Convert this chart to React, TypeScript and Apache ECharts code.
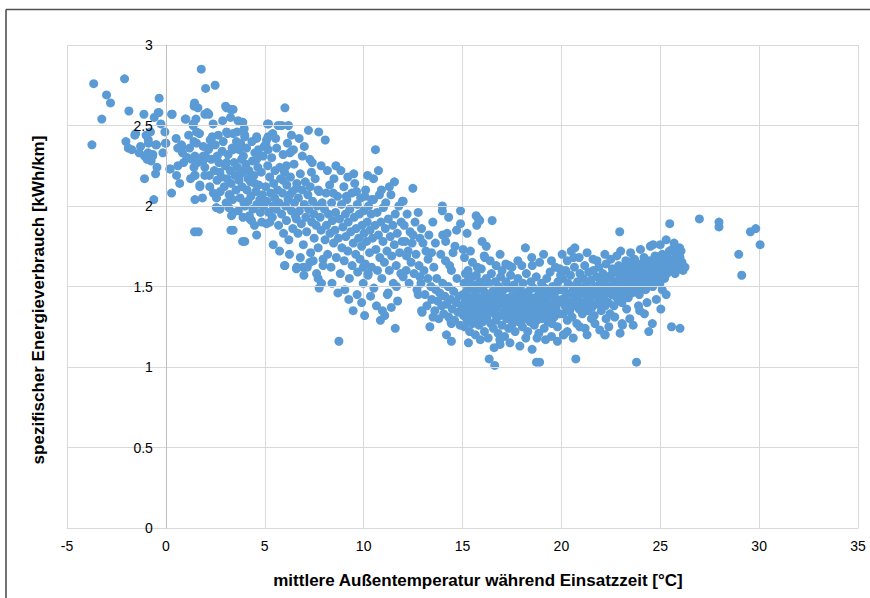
import React, { useEffect, useRef } from "react";
import * as echarts from "echarts";

const xAxisTitle = "mittlere Außentemperatur während Einsatzzeit [°C]";
const yAxisTitle = "spezifischer Energieverbrauch [kWh/km]";

// [temperature °C, specific consumption kWh/km]
const pointsBelowZero: [number, number][] = [
  [-3.74, 2.38], [-3.65, 2.76], [-3.24, 2.54], [-3.0, 2.69], [-2.8, 2.64], [-2.09, 2.79],
  [-2.02, 2.4], [-1.87, 2.59], [-1.72, 2.35], [-1.57, 2.44], [-1.53, 2.45], [-1.28, 2.37],
  [-1.11, 2.57], [-1.08, 2.31], [-1.08, 2.17], [-1.0, 2.44], [-0.89, 2.41], [-0.88, 2.39],
  [-0.67, 2.31], [-0.66, 2.32], [-0.61, 2.04], [-0.59, 2.55], [-0.52, 2.2], [-0.51, 2.38],
  [-0.47, 2.38], [-0.39, 2.58], [-0.35, 2.58], [-0.34, 2.67], [-0.05, 2.46], [-0.02, 2.39],
  [-1.35, 2.33], [-0.95, 2.29], [-0.78, 2.46], [-0.25, 2.51], [-1.9, 2.36], [-0.45, 2.24],
  [-0.15, 2.33], [-0.9, 2.33], [-0.75, 2.28],
];

const pointsZeroToTwo: [number, number][] = [
  [0.0, 2.39], [0.2, 2.23], [0.22, 2.23], [0.29, 2.08], [0.29, 2.57], [0.32, 2.57], [0.52, 2.42],
  [0.54, 2.19], [0.61, 2.25], [0.79, 2.38], [0.81, 2.37], [0.84, 2.33], [0.98, 2.54], [1.01, 2.54],
  [1.06, 2.3], [1.08, 2.3], [1.38, 2.51], [1.38, 2.5], [1.42, 2.24], [1.43, 2.62], [1.45, 2.64],
  [1.45, 2.19], [1.45, 1.84], [1.47, 2.31], [1.47, 2.04], [1.48, 2.19], [1.52, 2.54], [1.55, 2.39],
  [1.62, 2.61], [1.64, 1.84], [1.72, 2.12], [1.79, 2.85], [1.87, 2.28], [1.97, 2.57], [1.97, 2.19],
  [1.89, 2.37], [1.97, 2.24], [1.72, 2.13], [1.55, 2.46], [1.42, 2.4], [1.89, 2.31], [0.6, 2.36],
  [0.9, 2.27], [1.2, 2.36], [1.25, 2.17], [0.7, 2.14], [1.15, 2.44], [1.6, 2.27], [1.7, 2.45],
  [1.85, 2.05], [1.3, 2.29],
];

const pointsTwoToFive: [number, number][] = [
  [2.01, 2.73], [2.09, 2.58], [2.14, 2.35], [2.17, 2.57], [2.19, 2.36], [2.22, 2.12], [2.24, 2.41],
  [2.39, 2.51], [2.49, 2.75], [2.56, 2.05], [2.59, 2.16], [2.73, 1.98], [2.73, 2.21], [2.87, 2.53],
  [3.07, 2.61], [3.07, 2.27], [3.12, 2.45], [3.2, 2.07], [3.24, 2.07], [3.29, 2.6], [3.29, 1.85],
  [3.32, 1.94], [3.35, 2.36], [3.4, 1.85], [3.4, 1.96], [3.6, 2.46], [3.71, 2.35], [3.83, 2.29],
  [3.88, 1.78], [3.89, 2.52], [3.99, 2.44], [3.99, 2.22], [3.99, 1.78], [4.0, 2.0], [4.16, 2.17],
  [4.25, 1.92], [4.33, 1.91], [4.5, 2.33], [4.5, 2.14], [4.59, 2.43], [4.59, 2.29], [4.59, 1.82],
  [4.75, 2.04], [3.02, 2.62], [3.4, 2.6], [3.27, 2.55], [3.65, 2.53], [3.87, 2.52], [3.96, 2.48],
  [3.07, 2.46], [3.4, 2.45], [3.57, 2.4], [3.4, 2.35], [3.99, 2.43], [4.59, 2.42], [4.62, 2.33],
  [4.97, 2.37], [2.3, 2.29], [2.45, 2.22], [2.6, 2.31], [2.68, 2.27], [2.8, 2.18], [2.85, 2.34],
  [2.95, 2.12], [3.0, 2.25], [3.1, 2.17], [3.15, 2.32], [3.25, 2.22], [3.3, 2.14], [3.45, 2.27],
  [3.5, 2.19], [3.55, 2.1], [3.62, 2.24], [3.7, 2.16], [3.75, 2.05], [3.8, 2.2], [3.85, 2.12],
  [3.92, 2.31], [3.95, 2.02], [4.05, 2.26], [4.1, 2.1], [4.15, 2.03], [4.2, 2.22], [4.28, 2.15],
  [4.3, 2.06], [4.38, 2.28], [4.4, 1.98], [4.45, 2.19], [4.55, 2.09], [4.6, 2.01], [4.65, 2.24],
  [4.7, 2.13], [4.78, 1.96], [4.82, 2.21], [4.88, 2.07], [4.92, 2.31], [4.95, 2.0], [2.35, 2.43],
  [2.5, 2.38], [2.65, 2.44], [2.75, 2.09], [2.9, 2.4], [3.05, 2.02], [3.18, 1.99], [3.38, 2.04],
  [3.48, 2.36], [3.66, 1.97], [3.78, 2.39], [3.9, 1.93], [4.08, 2.36], [4.22, 1.94], [4.35, 2.4],
  [4.48, 1.88], [4.68, 2.35], [4.85, 1.9], [2.55, 1.99], [2.4, 2.08], [2.2, 2.19], [2.05, 2.3],
];

const pointsFiveToEight: [number, number][] = [
  [5.09, 2.41], [5.09, 1.89], [5.14, 2.51], [5.17, 2.35], [5.19, 2.51], [5.26, 1.9], [5.43, 2.0],
  [5.43, 1.76], [5.68, 2.5], [5.76, 2.24], [5.86, 2.5], [5.93, 2.16], [6.0, 1.63], [6.02, 2.61],
  [6.02, 1.63], [6.2, 2.5], [6.27, 2.33], [6.27, 2.07], [6.6, 1.61], [6.6, 1.92], [6.74, 2.42],
  [6.98, 1.57], [7.21, 2.47], [7.28, 2.29], [7.73, 2.46], [7.75, 1.49], [6.62, 1.62], [6.94, 1.62],
  [7.62, 1.58], [7.87, 1.52], [7.28, 1.65], [7.95, 1.63], [5.17, 2.43], [5.06, 2.38], [5.93, 2.32],
  [6.35, 2.34], [6.1, 2.25], [7.36, 2.21], [6.6, 2.11], [7.7, 2.1], [5.05, 2.12], [5.1, 2.03],
  [5.15, 2.25], [5.2, 1.96], [5.25, 2.18], [5.3, 2.08], [5.35, 2.3], [5.38, 1.93], [5.45, 2.14],
  [5.5, 2.05], [5.52, 2.22], [5.58, 1.98], [5.6, 2.36], [5.65, 2.1], [5.7, 1.88], [5.72, 2.02],
  [5.8, 2.17], [5.85, 1.95], [5.9, 2.08], [5.95, 1.83], [6.0, 2.21], [6.05, 2.0], [6.1, 1.91],
  [6.12, 2.13], [6.18, 2.04], [6.22, 1.79], [6.3, 2.18], [6.35, 1.97], [6.4, 2.09], [6.42, 1.86],
  [6.48, 2.26], [6.5, 2.02], [6.55, 1.94], [6.62, 2.14], [6.68, 1.83], [6.7, 2.05], [6.75, 1.97],
  [6.8, 2.2], [6.85, 1.89], [6.9, 2.1], [6.95, 1.76], [7.0, 2.01], [7.05, 2.15], [7.08, 1.93],
  [7.12, 1.84], [7.18, 2.07], [7.22, 1.98], [7.3, 2.12], [7.32, 1.71], [7.38, 1.9], [7.42, 2.03],
  [7.48, 1.95], [7.5, 1.8], [7.55, 2.17], [7.6, 1.88], [7.65, 2.0], [7.7, 1.74], [7.75, 2.09],
  [7.8, 1.93], [7.85, 1.85], [7.9, 2.02], [7.95, 1.67], [5.55, 2.42], [6.15, 2.39], [6.45, 2.35],
  [6.9, 2.31], [7.4, 2.27], [7.0, 2.37], [7.85, 2.25], [5.4, 2.45], [6.35, 2.44], [5.75, 1.72],
  [6.25, 1.7], [6.8, 1.68], [7.15, 1.62], [7.45, 1.66], [7.7, 1.55],
];

const pointsEightToTwelve: [number, number][] = [
  [8.06, 2.41], [8.17, 2.22], [8.7, 1.46], [8.75, 1.16], [8.85, 2.22], [9.47, 1.35], [9.5, 2.2],
  [9.64, 2.09], [9.67, 1.45], [10.06, 2.06], [10.5, 2.17], [10.6, 2.35], [10.65, 1.38], [10.85, 1.29],
  [10.9, 2.1], [11.56, 2.15], [11.6, 1.24], [11.96, 2.03], [11.07, 1.32], [9.98, 1.52], [10.23, 1.58],
  [11.24, 1.46], [11.66, 1.5], [10.4, 2.04], [8.46, 2.08], [9.13, 2.06], [8.02, 1.98], [8.05, 1.79],
  [8.1, 2.08], [8.12, 1.88], [8.18, 1.7], [8.22, 1.95], [8.28, 2.13], [8.3, 1.83], [8.35, 1.62],
  [8.38, 2.02], [8.42, 1.91], [8.48, 1.77], [8.5, 2.17], [8.55, 1.85], [8.58, 1.96], [8.62, 1.68],
  [8.68, 2.06], [8.72, 1.8], [8.78, 1.92], [8.82, 1.58], [8.88, 2.01], [8.9, 1.74], [8.95, 1.87],
  [9.0, 2.12], [9.02, 1.66], [9.08, 1.95], [9.1, 1.81], [9.15, 2.04], [9.2, 1.72], [9.22, 1.9],
  [9.28, 1.55], [9.3, 1.98], [9.35, 1.84], [9.4, 2.08], [9.42, 1.63], [9.48, 1.77], [9.52, 1.93],
  [9.55, 2.14], [9.6, 1.7], [9.62, 1.86], [9.68, 2.01], [9.7, 1.59], [9.75, 1.8], [9.78, 1.95],
  [9.82, 1.67], [9.85, 2.05], [9.9, 1.75], [9.92, 1.88], [9.98, 1.62], [10.0, 1.97], [10.02, 1.83],
  [10.08, 1.64], [10.1, 2.1], [10.15, 1.78], [10.18, 1.9], [10.22, 1.57], [10.25, 2.0], [10.3, 1.71],
  [10.32, 1.85], [10.38, 1.95], [10.4, 1.62], [10.45, 1.8], [10.5, 2.04], [10.52, 1.49], [10.58, 1.88],
  [10.62, 1.73], [10.68, 1.96], [10.7, 1.6], [10.75, 1.82], [10.8, 2.07], [10.82, 1.68], [10.88, 1.9],
  [10.92, 1.55], [10.98, 1.78], [11.0, 1.99], [11.05, 1.65], [11.1, 1.86], [11.12, 2.02], [11.18, 1.72],
  [11.2, 1.45], [11.25, 1.92], [11.3, 1.6], [11.35, 1.81], [11.38, 2.07], [11.42, 1.69], [11.48, 1.88],
  [11.5, 1.52], [11.55, 1.76], [11.6, 1.95], [11.65, 1.63], [11.7, 1.83], [11.72, 1.41], [11.78, 2.0],
  [11.82, 1.71], [11.88, 1.58], [11.9, 1.9], [11.95, 1.78], [8.4, 1.52], [9.05, 1.48], [9.25, 1.42],
  [9.9, 1.4], [10.35, 1.44], [10.05, 1.32], [10.95, 1.35], [11.4, 1.37], [8.6, 2.25], [9.2, 2.18],
  [10.2, 2.19], [10.75, 2.22], [11.3, 2.12],
];

const pointsTwelveToFifteen: [number, number][] = [
  [12.0, 2.03], [12.17, 1.69], [12.49, 2.11], [12.5, 1.82], [12.76, 1.96], [12.76, 1.45], [12.84, 1.56],
  [12.93, 1.86], [12.93, 1.35], [12.96, 1.34], [13.0, 1.77], [13.26, 1.67], [13.35, 1.25], [13.43, 1.71],
  [13.51, 1.31], [13.63, 1.77], [13.98, 2.0], [13.98, 1.97], [14.14, 1.66], [14.19, 1.2], [14.22, 1.83],
  [14.42, 1.28], [14.44, 1.6], [14.44, 1.16], [14.44, 1.27], [14.52, 1.71], [14.9, 1.97], [14.9, 1.89],
  [12.0, 1.56], [12.05, 1.88], [12.1, 1.78], [12.15, 1.6], [12.2, 1.95], [12.25, 1.72], [12.3, 1.52],
  [12.35, 1.84], [12.4, 1.65], [12.45, 1.77], [12.55, 1.58], [12.6, 1.9], [12.65, 1.7], [12.7, 1.48],
  [12.8, 1.63], [12.85, 1.8], [12.9, 1.52], [13.05, 1.6], [13.1, 1.45], [13.15, 1.72], [13.2, 1.38],
  [13.25, 1.55], [13.3, 1.82], [13.4, 1.5], [13.45, 1.42], [13.55, 1.62], [13.6, 1.35], [13.65, 1.48],
  [13.7, 1.55], [13.75, 1.41], [13.8, 1.3], [13.85, 1.46], [13.9, 1.7], [13.95, 1.38], [14.0, 1.52],
  [14.05, 1.33], [14.1, 1.44], [14.15, 1.78], [14.2, 1.39], [14.28, 1.5], [14.3, 1.31], [14.35, 1.63],
  [14.4, 1.42], [14.48, 1.36], [14.55, 1.47], [14.6, 1.29], [14.62, 1.75], [14.68, 1.4], [14.72, 1.55],
  [14.78, 1.34], [14.82, 1.44], [14.88, 1.26], [14.95, 1.38], [14.0, 1.82], [13.5, 1.9], [14.7, 1.85],
  [14.3, 1.93],
];

const pointsFifteenToTwenty: [number, number][] = [
  [15.03, 1.73], [15.23, 1.83], [15.28, 1.6], [15.69, 1.94], [15.72, 1.88], [15.8, 1.92], [15.87, 1.91],
  [15.99, 1.78], [16.1, 1.69], [16.13, 1.68], [16.35, 1.05], [16.5, 1.91], [16.6, 1.12], [16.63, 1.01],
  [16.89, 1.17], [17.19, 1.64], [17.36, 1.63], [18.18, 1.74], [18.52, 1.11], [18.53, 1.63], [18.74, 1.03],
  [18.77, 1.18], [18.9, 1.03], [19.2, 1.17], [19.92, 1.61], [15.02, 1.45], [15.05, 1.32], [15.08, 1.52],
  [15.1, 1.25], [15.12, 1.4], [15.15, 1.58], [15.18, 1.35], [15.2, 1.47], [15.24, 1.29], [15.27, 1.42],
  [15.3, 1.54], [15.33, 1.37], [15.36, 1.22], [15.4, 1.49], [15.42, 1.31], [15.45, 1.43], [15.48, 1.56],
  [15.5, 1.27], [15.53, 1.39], [15.56, 1.51], [15.6, 1.34], [15.62, 1.45], [15.65, 1.2], [15.68, 1.41],
  [15.7, 1.57], [15.74, 1.3], [15.77, 1.48], [15.8, 1.37], [15.83, 1.26], [15.86, 1.53], [15.9, 1.43],
  [15.92, 1.33], [15.95, 1.61], [15.98, 1.4], [16.02, 1.28], [16.05, 1.5], [16.08, 1.36], [16.11, 1.22],
  [16.15, 1.46], [16.18, 1.39], [16.2, 1.55], [16.24, 1.31], [16.27, 1.44], [16.3, 1.18], [16.33, 1.52],
  [16.36, 1.35], [16.4, 1.42], [16.43, 1.27], [16.46, 1.58], [16.5, 1.38], [16.53, 1.47], [16.56, 1.24],
  [16.6, 1.41], [16.63, 1.33], [16.66, 1.53], [16.7, 1.29], [16.73, 1.45], [16.76, 1.37], [16.8, 1.21],
  [16.83, 1.5], [16.86, 1.4], [16.9, 1.32], [16.93, 1.56], [16.96, 1.44], [17.0, 1.26], [17.03, 1.39],
  [17.06, 1.48], [17.1, 1.34], [17.13, 1.19], [17.16, 1.43], [17.2, 1.53], [17.23, 1.3], [17.26, 1.41],
  [17.3, 1.36], [17.33, 1.24], [17.36, 1.49], [17.4, 1.38], [17.43, 1.57], [17.46, 1.32], [17.5, 1.44],
  [17.53, 1.27], [17.56, 1.4], [17.6, 1.51], [17.63, 1.35], [17.66, 1.22], [17.7, 1.46], [17.73, 1.39],
  [17.76, 1.31], [17.8, 1.55], [17.83, 1.42], [17.86, 1.28], [17.9, 1.37], [17.93, 1.48], [17.96, 1.33],
  [18.0, 1.43], [18.03, 1.25], [18.06, 1.52], [18.1, 1.38], [18.13, 1.3], [18.16, 1.45], [18.2, 1.35],
  [18.23, 1.58], [18.26, 1.41], [18.3, 1.22], [18.33, 1.47], [18.36, 1.34], [18.4, 1.39], [18.43, 1.28],
  [18.46, 1.53], [18.5, 1.43], [18.53, 1.31], [18.56, 1.37], [18.6, 1.49], [18.63, 1.26], [18.66, 1.42],
  [18.7, 1.35], [18.73, 1.56], [18.76, 1.29], [18.8, 1.44], [18.83, 1.38], [18.86, 1.21], [18.9, 1.47],
  [18.93, 1.33], [18.96, 1.41], [19.0, 1.52], [19.03, 1.3], [19.06, 1.45], [19.1, 1.36], [19.13, 1.24],
  [19.16, 1.49], [19.2, 1.4], [19.23, 1.32], [19.26, 1.55], [19.3, 1.43], [19.33, 1.28], [19.36, 1.47],
  [19.4, 1.37], [19.43, 1.59], [19.46, 1.34], [19.5, 1.44], [19.53, 1.27], [19.56, 1.5], [19.6, 1.39],
  [19.63, 1.31], [19.66, 1.46], [19.7, 1.62], [19.73, 1.36], [19.76, 1.42], [19.8, 1.25], [19.83, 1.53],
  [19.86, 1.4], [19.9, 1.33], [19.93, 1.48], [19.96, 1.57], [15.1, 1.68], [15.4, 1.72], [15.5, 1.65],
  [15.75, 1.62], [16.2, 1.75], [16.4, 1.66], [16.7, 1.63], [16.9, 1.7], [17.5, 1.62], [17.8, 1.66],
  [18.5, 1.68], [18.9, 1.65], [19.1, 1.7], [19.5, 1.66], [17.0, 1.6], [18.0, 1.63], [15.3, 1.15],
  [15.9, 1.17], [17.4, 1.15], [17.9, 1.13], [18.2, 1.18], [19.5, 1.19], [19.8, 1.16], [16.9, 1.14],
];

const pointsTwentyToTwentySix: [number, number][] = [
  [20.04, 1.7], [20.1, 1.2], [20.12, 1.2], [20.63, 1.68], [20.68, 1.74], [20.73, 1.05], [20.93, 1.25],
  [21.52, 1.3], [21.6, 1.67], [21.94, 1.23], [22.19, 1.2], [22.22, 1.2], [22.26, 1.3], [22.5, 1.67],
  [22.8, 1.69], [22.95, 1.84], [22.97, 1.21], [23.07, 1.27], [23.09, 1.26], [23.46, 1.3], [23.6, 1.66],
  [23.63, 1.26], [23.8, 1.03], [23.96, 1.35], [24.33, 1.4], [24.42, 1.22], [24.6, 1.27], [24.64, 1.76],
  [25.03, 1.36], [25.1, 1.48], [25.48, 1.89], [25.57, 1.25], [26.0, 1.24], [26.25, 1.62], [25.98, 1.74],
  [25.75, 1.74], [20.02, 1.42], [20.06, 1.55], [20.1, 1.33], [20.14, 1.48], [20.18, 1.38], [20.22, 1.6],
  [20.26, 1.45], [20.3, 1.29], [20.34, 1.52], [20.38, 1.4], [20.42, 1.35], [20.46, 1.57], [20.5, 1.46],
  [20.54, 1.31], [20.58, 1.5], [20.62, 1.42], [20.66, 1.62], [20.7, 1.38], [20.74, 1.47], [20.78, 1.27],
  [20.82, 1.53], [20.86, 1.44], [20.9, 1.36], [20.94, 1.58], [20.98, 1.49], [21.02, 1.4], [21.06, 1.33],
  [21.1, 1.55], [21.14, 1.46], [21.18, 1.63], [21.22, 1.38], [21.26, 1.51], [21.3, 1.43], [21.34, 1.35],
  [21.38, 1.59], [21.42, 1.48], [21.46, 1.41], [21.5, 1.54], [21.54, 1.37], [21.58, 1.46], [21.62, 1.6],
  [21.66, 1.32], [21.7, 1.5], [21.74, 1.44], [21.78, 1.56], [21.82, 1.39], [21.86, 1.48], [21.9, 1.62],
  [21.94, 1.42], [21.98, 1.53], [22.02, 1.35], [22.06, 1.47], [22.1, 1.58], [22.14, 1.43], [22.18, 1.51],
  [22.22, 1.38], [22.26, 1.64], [22.3, 1.46], [22.34, 1.55], [22.38, 1.4], [22.42, 1.5], [22.46, 1.33],
  [22.5, 1.57], [22.54, 1.45], [22.58, 1.61], [22.62, 1.48], [22.66, 1.38], [22.7, 1.53], [22.74, 1.44],
  [22.78, 1.59], [22.82, 1.5], [22.86, 1.42], [22.9, 1.63], [22.94, 1.55], [22.98, 1.47], [23.02, 1.58],
  [23.06, 1.4], [23.1, 1.52], [23.14, 1.62], [23.18, 1.45], [23.22, 1.56], [23.26, 1.66], [23.3, 1.49],
  [23.34, 1.59], [23.38, 1.43], [23.42, 1.54], [23.46, 1.63], [23.5, 1.51], [23.54, 1.57], [23.58, 1.46],
  [23.62, 1.6], [23.66, 1.53], [23.7, 1.67], [23.74, 1.49], [23.78, 1.58], [23.82, 1.62], [23.86, 1.52],
  [23.9, 1.56], [23.94, 1.45], [23.98, 1.64], [24.02, 1.57], [24.06, 1.5], [24.1, 1.61], [24.14, 1.54],
  [24.18, 1.68], [24.22, 1.58], [24.26, 1.48], [24.3, 1.63], [24.34, 1.56], [24.38, 1.6], [24.42, 1.52],
  [24.46, 1.66], [24.5, 1.59], [24.54, 1.55], [24.58, 1.64], [24.62, 1.5], [24.66, 1.61], [24.7, 1.57],
  [24.74, 1.69], [24.78, 1.6], [24.82, 1.54], [24.86, 1.63], [24.9, 1.58], [24.94, 1.66], [24.98, 1.52],
  [25.02, 1.61], [25.06, 1.57], [25.1, 1.7], [25.14, 1.63], [25.18, 1.59], [25.22, 1.55], [25.26, 1.66],
  [25.3, 1.61], [25.34, 1.58], [25.38, 1.68], [25.42, 1.63], [25.46, 1.72], [25.5, 1.6], [25.55, 1.65],
  [25.6, 1.73], [25.65, 1.62], [25.7, 1.67], [25.75, 1.58], [25.8, 1.7], [25.85, 1.64], [25.9, 1.73],
  [25.95, 1.61], [26.0, 1.68], [26.05, 1.72], [26.1, 1.65], [26.15, 1.6], [20.3, 1.22], [20.6, 1.18],
  [21.2, 1.24], [21.7, 1.27], [22.4, 1.25], [22.7, 1.31], [23.3, 1.36], [23.9, 1.38], [24.2, 1.33],
  [24.8, 1.42], [25.3, 1.45], [21.3, 1.2], [20.3, 1.66], [20.9, 1.68], [21.3, 1.71], [21.8, 1.66],
  [22.2, 1.7], [23.0, 1.72], [23.5, 1.71], [24.0, 1.73], [24.5, 1.75], [25.0, 1.76], [25.7, 1.77],
  [25.3, 1.79], [20.5, 1.72],
];

const pointsAboveTwentySix: [number, number][] = [
  [26.98, 1.92], [27.97, 1.9], [27.97, 1.87], [28.97, 1.7], [29.12, 1.57], [29.56, 1.84], [29.83, 1.86],
  [30.05, 1.76],
];

const allPoints = [
  ...pointsBelowZero,
  ...pointsZeroToTwo,
  ...pointsTwoToFive,
  ...pointsFiveToEight,
  ...pointsEightToTwelve,
  ...pointsTwelveToFifteen,
  ...pointsFifteenToTwenty,
  ...pointsTwentyToTwentySix,
  ...pointsAboveTwentySix,
];

const FONT = '"Liberation Sans", Arial, sans-serif';

const X_MIN = -5;
const X_MAX = 35;
const GRID_LEFT = 67;
const GRID_RIGHT = 12;
const CHART_W = 870;
// y axis crosses the x axis at 0 °C: shift it right by the pixel width of the range X_MIN..0
const yAxisShift = ((0 - X_MIN) / (X_MAX - X_MIN)) * (CHART_W - GRID_LEFT - GRID_RIGHT);

export default function App() {
  const ref = useRef<HTMLDivElement>(null);

  useEffect(() => {
    if (!ref.current) return;
    const chart = echarts.init(ref.current, null, { renderer: "svg" });
    chart.setOption({
      animation: false,
      backgroundColor: "#ffffff",
      grid: { left: GRID_LEFT, right: GRID_RIGHT, top: 45, bottom: 70, containLabel: false },
      xAxis: {
        type: "value",
        min: X_MIN,
        max: X_MAX,
        interval: 5,
        axisLine: { show: true, onZero: false, lineStyle: { color: "#d9d9d9", width: 1 } },
        axisTick: { show: false },
        splitLine: { show: true, lineStyle: { color: "#d9d9d9", width: 1 } },
        axisLabel: { fontSize: 14, color: "#000000", margin: 11, fontFamily: FONT },
      },
      yAxis: {
        type: "value",
        min: 0,
        max: 3,
        interval: 0.5,
        position: "left",
        offset: -yAxisShift,
        z: 5,
        axisLine: { show: true, onZero: false, lineStyle: { color: "#bfbfbf", width: 1 } },
        axisTick: { show: false },
        splitLine: { show: true, lineStyle: { color: "#d9d9d9", width: 1 } },
        axisLabel: { fontSize: 14, color: "#000000", margin: 13, fontFamily: FONT },
      },
      series: [
        {
          type: "scatter",
          data: allPoints,
          symbol: "circle",
          symbolSize: 9,
          itemStyle: { color: "#5b9bd5", opacity: 1 },
          emphasis: { disabled: true },
        },
      ],
      graphic: [
        {
          type: "line",
          shape: { x1: 6, y1: 9.5, x2: 870, y2: 9.5 },
          style: { stroke: "#505050", lineWidth: 1.6 },
          silent: true,
        },
        {
          type: "line",
          shape: { x1: 6, y1: 9.5, x2: 6, y2: 598 },
          style: { stroke: "#505050", lineWidth: 1.6 },
          silent: true,
        },
        {
          type: "text",
          x: 478,
          y: 580,
          style: {
            text: xAxisTitle,
            fontSize: 17,
            fontWeight: "bold",
            fontFamily: FONT,
            fill: "#000000",
            align: "center",
            verticalAlign: "middle",
          },
          silent: true,
        },
        {
          type: "text",
          x: 38,
          y: 300,
          rotation: Math.PI / 2,
          style: {
            text: yAxisTitle,
            fontSize: 17,
            fontWeight: "bold",
            fontFamily: FONT,
            fill: "#000000",
            align: "center",
            verticalAlign: "middle",
          },
          silent: true,
        },
      ],
    });
    return () => chart.dispose();
  }, []);

  return (
    <div
      ref={ref}
      style={{ position: "fixed", left: 0, top: 0, width: 870, height: 598, background: "#ffffff" }}
    />
  );
}
